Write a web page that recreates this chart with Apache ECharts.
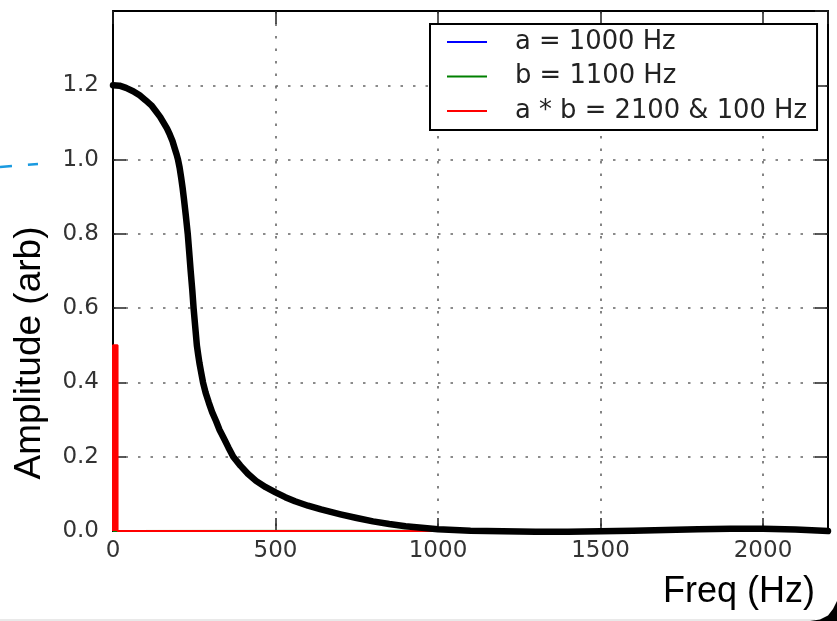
<!DOCTYPE html>
<html>
<head>
<meta charset="utf-8">
<script src="https://cdn.jsdelivr.net/npm/echarts@6/dist/echarts.min.js"></script>
<style>
html,body{margin:0;padding:0;background:#fff;}
#chart{width:837px;height:621px;}
</style>
</head>
<body>
<div id="chart"></div>
<script>
// ---- data ----
const seriesNames = ['a = 1000 Hz', 'b = 1100 Hz', 'a * b = 2100 & 100 Hz'];
const xTicks = [0, 500, 1000, 1500, 2000];
const yTicks = [0.0, 0.2, 0.4, 0.6, 0.8, 1.0, 1.2];

const aFreq = [0, 1000, 2200];
const aAmp  = [0, 0, 0];
const bFreq = [0, 1100, 2200];
const bAmp  = [0, 0.001, 0];
const abFreq = [0, 0, 14, 14, 95, 100, 105, 2100, 2200];
const abAmp  = [0, 0.5, 0.5, 0, 0, 0.005, 0, 0, 0];

const filtFreq = [0, 20, 40, 62, 82, 100, 118, 132, 145, 155, 166, 175, 183, 190, 196, 200, 205, 210, 214, 218, 224, 230, 235, 239, 244, 248, 253, 258, 262, 266, 271, 277, 285, 295, 305, 317, 328, 341, 355, 370, 392, 415, 440, 470, 500, 530, 560, 600, 640, 700, 750, 800, 850, 900, 950, 1000, 1100, 1200, 1300, 1400, 1500, 1600, 1700, 1800, 1900, 2000, 2100, 2200];
const filtAmp  = [1.2, 1.199, 1.193, 1.184, 1.173, 1.16, 1.146, 1.13, 1.115, 1.10, 1.084, 1.067, 1.05, 1.03, 1.013, 1.0, 0.978, 0.95, 0.925, 0.896, 0.85, 0.8, 0.745, 0.70, 0.648, 0.6, 0.55, 0.5, 0.475, 0.452, 0.428, 0.4, 0.372, 0.345, 0.32, 0.296, 0.272, 0.25, 0.225, 0.2, 0.176, 0.154, 0.135, 0.118, 0.104, 0.091, 0.08, 0.068, 0.058, 0.045, 0.035, 0.026, 0.019, 0.013, 0.009, 0.005, 0.001, -0.001, -0.002, -0.002, -0.001, 0.001, 0.003, 0.005, 0.006, 0.006, 0.004, 0.0];

const xTitle = 'Freq (Hz)';
const yTitle = 'Amplitude (arb)';

function zip(xs, ys) { return xs.map((x, i) => [x, ys[i]]); }

const tickFont = { fontFamily: 'DejaVu Sans', fontSize: 23, color: '#333' };
const gridLine = { show: true, lineStyle: { color: '#666', width: 1.6, type: [2.5, 10] } };

const chart = echarts.init(document.getElementById('chart'), null, { renderer: 'canvas' });
chart.setOption({
  animation: false,
  backgroundColor: '#fff',
  grid: { left: 113, right: 9, top: 11, bottom: 90, containLabel: false },
  xAxis: [
    {
      type: 'value', min: 0, max: 2200, interval: 500, position: 'bottom',
      axisLine: { show: true, onZero: false, lineStyle: { color: '#000', width: 2 } },
      axisTick: { show: true, inside: true, length: 13, lineStyle: { color: '#222', width: 1.5 } },
      axisLabel: Object.assign({ margin: 9, showMaxLabel: false,
        formatter: v => xTicks.indexOf(v) >= 0 ? String(v) : '' }, tickFont),
      splitLine: gridLine
    },
    {
      type: 'value', min: 0, max: 2200, interval: 500, position: 'top',
      axisLine: { show: true, onZero: false, lineStyle: { color: '#000', width: 2 } },
      axisTick: { show: true, inside: true, length: 13, lineStyle: { color: '#222', width: 1.5 } },
      axisLabel: { show: false }, splitLine: { show: false }
    }
  ],
  yAxis: [
    {
      type: 'value', min: 0, max: 1.4, interval: 0.2, position: 'left',
      axisLine: { show: true, onZero: false, lineStyle: { color: '#000', width: 2 } },
      axisTick: { show: true, inside: true, length: 13, lineStyle: { color: '#222', width: 1.5 } },
      axisLabel: Object.assign({ margin: 14, showMaxLabel: false,
        formatter: v => { const t = yTicks.find(k => Math.abs(k - v) < 1e-9); return t === undefined ? '' : t.toFixed(1); } }, tickFont),
      splitLine: gridLine
    },
    {
      type: 'value', min: 0, max: 1.4, interval: 0.2, position: 'right',
      axisLine: { show: true, onZero: false, lineStyle: { color: '#000', width: 2 } },
      axisTick: { show: true, inside: true, length: 13, lineStyle: { color: '#222', width: 1.5 } },
      axisLabel: { show: false }, splitLine: { show: false }
    }
  ],
  legend: {
    data: seriesNames,
    orient: 'vertical',
    left: 430, top: 24,
    padding: [5, 10, 6, 17],
    itemGap: 8.5,
    itemWidth: 40, itemHeight: 2,
    icon: 'rect',
    borderColor: '#000', borderWidth: 2, borderRadius: 0,
    backgroundColor: '#fff',
    textStyle: { fontFamily: 'DejaVu Sans', fontSize: 25.8, color: '#222', lineHeight: 26, padding: [0, 0, 0, 23] }
  },
  series: [
    { name: seriesNames[0], type: 'line', data: zip(aFreq, aAmp), showSymbol: false, symbol: 'none',
      lineStyle: { color: '#0000ff', width: 2 }, itemStyle: { color: '#0000ff' }, z: 2 },
    { name: seriesNames[1], type: 'line', data: zip(bFreq, bAmp), showSymbol: false, symbol: 'none',
      lineStyle: { color: '#008000', width: 2 }, itemStyle: { color: '#008000' }, z: 3 },
    { name: seriesNames[2], type: 'line', data: zip(abFreq, abAmp), showSymbol: false, symbol: 'none',
      lineStyle: { color: '#ff0000', width: 2 }, itemStyle: { color: '#ff0000' },
      areaStyle: { color: '#ff0000', opacity: 1 }, z: 4 },
    { name: 'filter', type: 'line', data: zip(filtFreq, filtAmp), showSymbol: false, symbol: 'none',
      smooth: false, clip: false,
      lineStyle: { color: '#000', width: 6.5, cap: 'round', join: 'round' }, z: 5 }
  ],
  graphic: [
    { type: 'text', position: [30, 353], rotation: Math.PI / 2,
      style: { text: yTitle, fontFamily: 'Liberation Sans', fontSize: 37, fill: '#000', textAlign: 'center', textVerticalAlign: 'middle' }, z: 10 },
    { type: 'text', style: { text: xTitle, x: 815, y: 592, fontFamily: 'Liberation Sans', fontSize: 36, fill: '#000', textAlign: 'right', textVerticalAlign: 'middle' }, z: 10 },
    { type: 'line', shape: { x1: 0, y1: 167, x2: 38, y2: 164 }, style: { stroke: '#1a9ae0', lineWidth: 2.5, lineDash: [12, 16] }, z: 10 },
    { type: 'line', shape: { x1: 0, y1: 620, x2: 815, y2: 620 }, style: { stroke: '#e2e2e2', lineWidth: 1.5 }, z: 10 },
    { type: 'polygon', shape: { points: [[810, 621], [820, 619.5], [828, 615.5], [833, 609], [837, 601], [837, 621]] }, style: { fill: '#000' }, z: 10 }
  ]
});
</script>
</body>
</html>
